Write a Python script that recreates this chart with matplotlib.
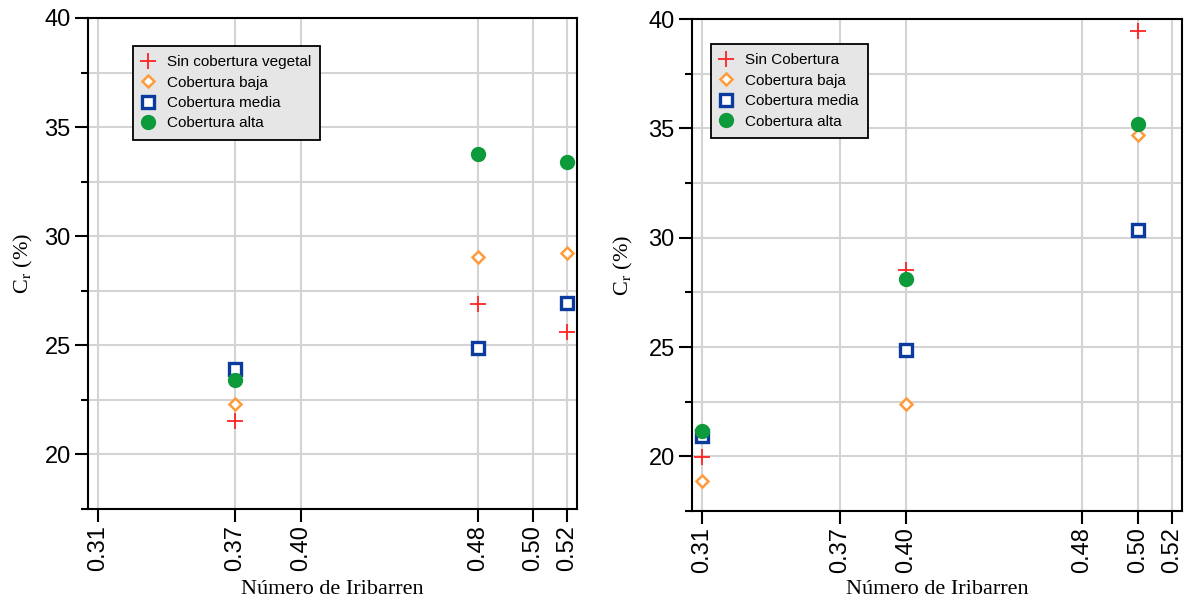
import matplotlib
matplotlib.use("Agg")
import matplotlib.pyplot as plt

# tick positions (true Iribarren values) and their printed labels
tick_pos = [0.31, 0.3715, 0.401, 0.48, 0.505, 0.52]
tick_lab = ['0.31', '0.37', '0.40', '0.48', '0.50', '0.52']

# left panel
x_left = [0.3715, 0.48, 0.52]
left_sin = [21.55, 26.9, 25.6]
left_baja = [22.3, 29.05, 29.25]
left_media = [23.9, 24.9, 26.95]
left_alta = [23.4, 33.78, 33.38]

# right panel
x_right = [0.31, 0.401, 0.505]
right_sin = [19.97, 28.5, 39.46]
right_baja = [18.85, 22.4, 34.7]
right_media = [20.95, 24.86, 30.37]
right_alta = [21.15, 28.12, 35.2]

plt.rcParams['font.family'] = ['Liberation Sans', 'DejaVu Sans']
plt.rcParams['mathtext.fontset'] = 'stix'

c_red = '#ff2424'
c_orange = '#ff9b3a'
c_blue = '#0b3b9e'
c_green = '#0c9a3a'

fig = plt.figure(figsize=(11.85, 6.04), dpi=100)
W, H = 1185, 604
ax1 = fig.add_axes([88 / W, 1 - 509 / H, (577 - 88) / W, (509 - 18) / H])
ax2 = fig.add_axes([692 / W, 1 - 511 / H, (1182 - 692) / W, (511 - 19) / H])


def draw(ax, x, sin, baja, media, alta, sin_label):
    ax.plot(x, sin, '+', color=c_red, ms=11, mew=1.3, label=sin_label, zorder=3)
    ax.plot(x, baja, 'D', color=c_orange, mfc='white', ms=6.5, mew=1.8,
            label='Cobertura baja', zorder=3)
    ax.plot(x, media, 's', color=c_blue, mfc='white', ms=9, mew=2.4,
            label='Cobertura media', zorder=3)
    ax.plot(x, alta, 'o', color=c_green, ms=10, label='Cobertura alta', zorder=3)

    ax.set_xlim(0.3055, 0.5245)
    ax.set_ylim(17.5, 40)
    ax.set_xticks(tick_pos)
    ax.set_xticklabels(tick_lab, rotation=90)
    ax.set_yticks([20, 25, 30, 35, 40])
    ax.set_yticks([17.5, 22.5, 27.5, 32.5, 37.5], minor=True)
    ax.grid(True, which='major', color='#d4d4d4', lw=1.5, zorder=0)
    ax.grid(True, which='minor', axis='y', color='#d4d4d4', lw=1.5, zorder=0)
    ax.set_axisbelow(True)
    ax.tick_params(which='major', direction='out', length=9.5, width=1.5,
                   labelsize=17)
    ax.tick_params(axis='y', which='major', pad=3)
    ax.tick_params(axis='x', which='major', pad=2)
    ax.tick_params(which='minor', direction='out', length=5, width=1.5)
    ax.tick_params(axis='x', which='minor', length=0)
    for s in ax.spines.values():
        s.set_linewidth(1.5)
    ax.set_xlabel('Número de Iribarren', family='Liberation Serif', fontsize=16)
    ax.set_ylabel(r'C$_\mathrm{r}$ (%)', family='Liberation Serif', fontsize=16)


draw(ax1, x_left, left_sin, left_baja, left_media, left_alta,
     'Sin cobertura vegetal')
draw(ax2, x_right, right_sin, right_baja, right_media, right_alta,
     'Sin Cobertura')

ax1.xaxis.set_label_coords(0.5, -0.145)
ax2.xaxis.set_label_coords(0.5, -0.14)
ax1.yaxis.set_label_coords(-0.108, 0.5)
ax2.yaxis.set_label_coords(-0.116, 0.5)

for ax, anchor in [(ax1, (0.092, 0.943)), (ax2, (0.039, 0.949))]:
    leg = ax.legend(loc='upper left', bbox_to_anchor=anchor, borderaxespad=0,
                    fontsize=11, fancybox=False, framealpha=1,
                    edgecolor='black', facecolor='#e6e6e6',
                    handletextpad=0.8, labelspacing=0.42, borderpad=0.6,
                    handlelength=0.8)
    leg.get_frame().set_linewidth(1.3)

fig.savefig('out.png', dpi=100)
